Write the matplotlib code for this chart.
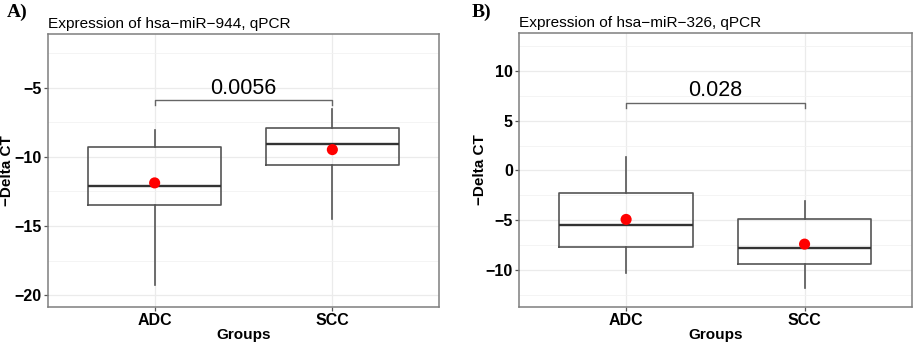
import numpy as np
import matplotlib
matplotlib.use("Agg")
from matplotlib import pyplot as plt

plt.rcParams['font.family'] = ['Liberation Sans', 'DejaVu Sans']

groups = ['ADC', 'SCC']

# panel A: hsa-miR-944
a_title = 'Expression of hsa\u2212miR\u2212944, qPCR'
a_whislo = [-19.28, -14.5]
a_q1 = [-13.48, -10.58]
a_med = [-12.1, -9.03]
a_q3 = [-9.28, -7.9]
a_whishi = [-8.04, -6.52]
a_mean = [-11.88, -9.47]
a_p = '0.0056'
a_brk = -5.87
a_ylim = (-20.87, -1.1)
a_ticks = [-20, -15, -10, -5]

# panel B: hsa-miR-326
b_title = 'Expression of hsa\u2212miR\u2212326, qPCR'
b_whislo = [-10.31, -11.76]
b_q1 = [-7.7, -9.35]
b_med = [-5.53, -7.84]
b_q3 = [-2.27, -4.92]
b_whishi = [1.31, -3.08]
b_mean = [-4.92, -7.4]
b_p = '0.028'
b_brk = 6.8
b_ylim = (-13.72, 13.8)
b_ticks = [-10, -5, 0, 5, 10]


def panel(ax, title, whislo, q1, med, q3, whishi, mean, p, brk, ylim, ticks, ylab_x):
    stats = []
    for i in range(len(groups)):
        stats.append(dict(whislo=whislo[i], q1=q1[i], med=med[i], q3=q3[i],
                          whishi=whishi[i], fliers=[], label=groups[i]))
    x = np.arange(1, len(groups) + 1)
    ax.bxp(stats, positions=x, widths=0.75, showcaps=False, showfliers=False,
           boxprops=dict(color='#555555', lw=1.2),
           whiskerprops=dict(color='#555555', lw=1.2),
           medianprops=dict(color='#333333', lw=1.7),
           zorder=3)
    ax.scatter(x, mean, s=64, color='#ff0000', zorder=4, edgecolors='none')

    span = ylim[1] - ylim[0]
    tip = span * 0.02
    ax.plot([x[0], x[0], x[1], x[1]], [brk - tip, brk, brk, brk - tip],
            color='#666666', lw=1.0, zorder=3)
    ax.text(x.mean(), brk + span * 0.005, p, ha='center', va='bottom',
            fontsize=15.5, color='black')

    ax.set_xlim(0.4, 2.6)
    ax.set_ylim(*ylim)
    ax.set_yticks(ticks)
    step = ticks[1] - ticks[0]
    minor = [t + step / 2 for t in [ticks[0] - step] + ticks]
    ax.set_yticks([m for m in minor if ylim[0] < m < ylim[1]], minor=True)
    ax.set_xticks(x)
    ax.set_xticklabels(groups)
    ax.grid(True, which='major', color='#ebebeb', lw=0.9, zorder=0)
    ax.grid(True, which='minor', axis='y', color='#f2f2f2', lw=0.6, zorder=0)
    ax.set_axisbelow(True)
    for s in ax.spines.values():
        s.set_color('#7f7f7f')
        s.set_linewidth(1.1)
    ax.tick_params(which='major', length=3, width=0.9, color='#555555',
                   labelsize=11.5, labelcolor='black', pad=1.5)
    ax.tick_params(which='minor', length=0)
    for lab in ax.get_xticklabels() + ax.get_yticklabels():
        lab.set_fontweight('bold')
    ax.set_xlabel('Groups', fontsize=11, fontweight='bold', labelpad=0)
    ax.set_ylabel('\u2212Delta CT', fontsize=11, fontweight='bold')
    ax.yaxis.set_label_coords(ylab_x, 0.5)
    ax.set_title(title, loc='left', fontsize=11.1, pad=4)


fig = plt.figure(figsize=(9.13, 3.45), dpi=100)
ax1 = fig.add_axes([0.0526, 0.110, 0.4282, 0.7914])
ax2 = fig.add_axes([0.5685, 0.110, 0.4300, 0.7943])

panel(ax1, a_title, a_whislo, a_q1, a_med, a_q3, a_whishi, a_mean, a_p, a_brk, a_ylim, a_ticks, -0.087)
panel(ax2, b_title, b_whislo, b_q1, b_med, b_q3, b_whishi, b_mean, b_p, b_brk, b_ylim, b_ticks, -0.081)

fig.text(0.008, 0.965, 'A)', family='Liberation Serif', fontweight='bold', fontsize=14, va='center')
fig.text(0.517, 0.965, 'B)', family='Liberation Serif', fontweight='bold', fontsize=14, va='center')

fig.savefig('out.png', dpi=100)
